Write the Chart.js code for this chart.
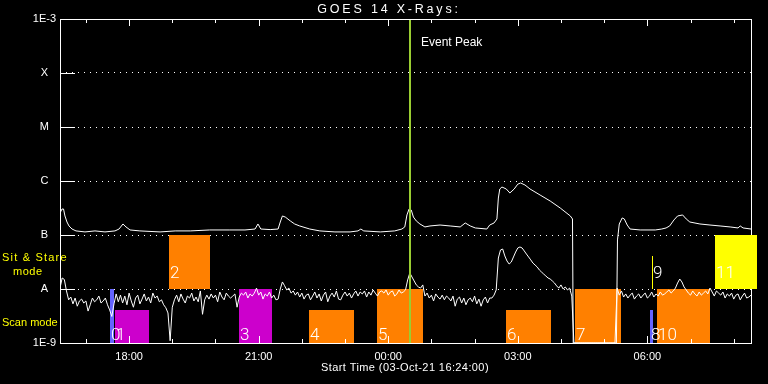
<!DOCTYPE html>
<html>
<head>
<meta charset="utf-8">
<title>GOES 14 X-Rays</title>
<script src="https://cdn.jsdelivr.net/npm/chart.js@4/dist/chart.umd.min.js"></script>
<style>
  html, body { margin: 0; padding: 0; background: #000; }
  #chart { display: block; background: #000; }
</style>
</head>
<body>
<canvas id="chart" width="768" height="384"></canvas>
<script>
"use strict";

// time is in minutes after the start time (03-Oct-21 16:24:00)
var TITLE = "GOES 14 X-Rays:";
var X_TITLE = "Start Time (03-Oct-21 16:24:00)";
var SPAN_MIN = 960;

var X_TICKS = [96, 276, 456, 636, 816];
var X_TICK_LABELS = ["18:00", "21:00", "00:00", "03:00", "06:00"];
var X_MINOR = [36, 96, 156, 216, 276, 336, 396, 456, 516, 576, 636, 696, 756, 816, 876, 936];

var Y_TICKS = [1e-9, 1e-8, 1e-7, 1e-6, 1e-5, 1e-4, 1e-3];
var Y_TICK_LABELS = ["1E-9", "A", "B", "C", "M", "X", "1E-3"];

// 1.0-8.0 A channel, flux in 1e-9 W/m2
var LONG_TIME = [0, 2.8, 4.9, 6.9, 9.7, 12.5, 16.7, 22.2, 34.7, 48.6, 62.5, 76.4, 82, 87.5, 91.7, 97.3,
  111, 139, 160, 181, 208, 236, 257, 271, 275, 279, 292, 303, 306, 309, 313, 320, 326, 333, 347, 361,
  382, 403, 414, 418, 422, 445, 465, 475, 479, 482, 485, 488, 491, 495, 500, 507, 514, 528, 542, 556,
  563, 570, 577, 593, 597, 603, 607, 609, 611, 614, 620, 625, 631, 636, 640, 646, 653, 667, 681, 695,
  709, 712, 713, 773, 774.5, 777, 781, 784, 788, 792, 806, 827, 836, 842, 847, 853, 858, 865, 870, 875,
  889, 903, 917, 931, 942, 945, 949, 960];
var LONG_FLUX = [255, 303, 303, 225, 174, 147, 129, 119, 114, 119, 114, 119, 129, 160, 141, 124,
  119, 114, 119, 119, 124, 124, 124, 129, 160, 129, 126, 129, 174, 225, 215, 182, 160, 147, 129, 119,
  114, 114, 119, 129, 119, 114, 119, 129, 141, 235, 303, 290, 215, 182, 160, 141, 147, 153, 147, 141,
  167, 147, 135, 129, 153, 167, 198, 484, 711, 774, 711, 600, 711, 875, 918, 843, 711, 550, 426, 316,
  225, 198, 1, 1, 81, 160, 207, 198, 153, 129, 124, 124, 129, 135, 147, 190, 225, 235, 198, 174,
  160, 153, 147, 141, 135, 147, 135, 129];

// 0.5-4.0 A channel, one value every 3 minutes, flux in 1e-9 W/m2
var SHORT_STEP = 3;
var SHORT_FLUX = [
  10.4, 16.0, 15.0, 9.2, 6.3, 7.1, 5.3, 6.8, 4.8, 6.0,
  6.5, 5.5, 6.0, 3.9, 5.1, 6.8, 5.8, 6.3, 7.4, 5.5,
  6.0, 6.8, 5.1, 4.1, 3.1, 5.3, 8.1, 5.8, 7.7, 5.5,
  7.4, 5.1, 8.4, 6.0, 4.6, 6.8, 7.7, 5.3, 6.5, 8.1,
  6.0, 7.1, 5.5, 8.4, 6.8, 7.4, 5.8, 6.3, 5.1, 4.5,
  3.6, 1.1, 4.6, 6.3, 7.7, 5.8, 8.1, 6.5, 5.5, 7.4,
  6.8, 8.4, 6.0, 7.1, 5.8, 9.2, 3.4, 6.3, 7.7, 6.5,
  8.1, 6.8, 7.7, 5.8, 8.8, 7.1, 6.3, 8.4, 7.4, 6.8,
  7.4, 8.1, 4.6, 7.1, 8.4, 7.7, 8.8, 6.8, 8.1, 7.4,
  8.4, 10.4, 7.7, 8.8, 6.5, 8.1, 7.4, 8.8, 6.8, 7.7,
  6.3, 6.5, 10.0, 13.5, 11.5, 9.6, 10.4, 8.4, 9.2, 7.7,
  8.8, 7.1, 8.4, 6.5, 7.7, 8.1, 6.3, 7.4, 8.8, 6.8,
  8.1, 6.0, 7.7, 8.8, 5.8, 7.4, 8.4, 7.1, 9.2, 6.5,
  6.3, 7.7, 8.8, 7.4, 8.4, 6.8, 8.1, 9.2, 7.4, 8.8,
  8.1, 9.2, 7.1, 8.8, 7.7, 9.6, 8.4, 7.4, 8.8, 9.2,
  8.4, 9.6, 7.7, 8.8, 9.2, 7.4, 8.1, 9.6, 8.4, 8.8,
  9.6, 14.7, 19.8, 16.7, 14.1, 11.9, 10.9, 10.4, 11.9, 7.4,
  8.4, 6.8, 7.7, 6.0, 8.1, 7.1, 6.5, 7.7, 6.3, 7.4,
  6.8, 6.0, 7.4, 4.8, 6.5, 7.1, 5.5, 6.8, 5.1, 6.3,
  6.8, 5.8, 7.4, 5.3, 6.5, 4.8, 6.3, 7.1, 5.5, 6.8,
  6.8, 7.7, 9.6, 37.5, 52.8, 55.0, 40.9, 33.0, 29.0, 31.6,
  39.2, 48.4, 57.5, 60.0, 57.5, 50.6, 44.4, 39.2, 34.6, 30.3,
  27.8, 25.5, 22.5, 20.6, 18.9, 17.4, 16.0, 15.3, 14.1, 12.9,
  11.4, 10.4, 11.9, 10.0, 10.9, 9.6, 10.4, 7.4, 1, 1,
  1, 1, 1, 1, 1, 1, 1, 1, 1, 1,
  1, 1, 1, 1, 1, 1, 1, 1, 10.4, 7.7,
  9.2, 7.1, 8.1, 6.8, 7.7, 8.4, 6.5, 7.4, 8.1, 6.8,
  7.7, 8.4, 6.8, 7.4, 8.8, 7.1, 8.1, 7.4, 8.8, 7.7,
  8.1, 8.8, 9.6, 8.4, 9.2, 10.4, 12.9, 15.3, 13.5, 10.9,
  9.6, 8.4, 7.7, 9.2, 8.1, 7.4, 8.8, 7.7, 8.4, 9.2,
  8.1, 10.4, 8.8, 7.4, 9.2, 8.4, 7.7, 8.8, 6.8, 8.1,
  7.4, 8.4, 6.5, 7.7, 8.1, 6.3, 7.4, 8.4, 6.8, 7.1, 7.7
];

// observation segments: start / end (minutes), flux band (W/m2)
var SEG_NAME = ["0", "1", "2", "3", "4", "5", "6", "7", "8", "9", "10", "11"];
var SEG_START = [69, 76, 151, 249, 346, 440, 620, 716, 820, 822.5, 829, 910];
var SEG_END = [75, 123, 208, 295, 408, 504, 682, 779, 823.5, 824, 903, 968];
var SEG_LOW = [1e-9, 1e-9, 1e-8, 1e-9, 1e-9, 1e-9, 1e-9, 1e-9, 1e-9, 1e-8, 1e-9, 1e-8];
var SEG_HIGH = [1e-8, 4e-9, 1e-7, 1e-8, 4e-9, 1e-8, 4e-9, 1e-8, 4e-9, 4e-8, 1e-8, 1e-7];

var EVENT_TIME = 486;
var EVENT_LABEL = "Event Peak";

// styles
var SEG_COLOR = ["#6464ff", "#cc00cc", "#ff8000", "#cc00cc", "#ff8000", "#ff8000",
  "#ff8000", "#ff8000", "#6464ff", "#ffff00", "#ff8000", "#ffff00"];
var FONT = "'Liberation Sans', Arial, sans-serif";

var longPts = LONG_TIME.map(function (t, i) { return {x: t, y: LONG_FLUX[i] * 1e-9}; });
var shortPts = SHORT_FLUX.map(function (v, i) { return {x: i * SHORT_STEP, y: v * 1e-9}; });

function hline(c, x0, x1, y) {
  c.beginPath(); c.moveTo(x0, y); c.lineTo(x1, y); c.stroke();
}
function vline(c, x, y0, y1) {
  c.beginPath(); c.moveTo(x, y0); c.lineTo(x, y1); c.stroke();
}

var goesOverlay = {
  id: "goesOverlay",
  beforeDatasetsDraw: function (chart) {
    var c = chart.ctx, a = chart.chartArea, xs = chart.scales.x, ys = chart.scales.y;
    c.save();
    c.strokeStyle = "#fff";
    c.lineWidth = 1;
    vline(c, a.right + 0.5, a.top, a.bottom + 1);
    SEG_NAME.forEach(function (n, i) {
      var x0 = Math.round(xs.getPixelForValue(SEG_START[i]));
      var x1 = Math.round(xs.getPixelForValue(SEG_END[i]));
      var y0 = Math.round(ys.getPixelForValue(SEG_LOW[i]));
      var y1 = Math.round(ys.getPixelForValue(SEG_HIGH[i]));
      c.fillStyle = SEG_COLOR[i];
      c.fillRect(x0, y1, Math.max(1, x1 - x0), y0 - y1);
    });
    c.restore();
  },
  afterDatasetsDraw: function (chart) {
    var c = chart.ctx, a = chart.chartArea, xs = chart.scales.x, ys = chart.scales.y;
    c.save();
    // event line
    var ex = Math.round(xs.getPixelForValue(EVENT_TIME));
    c.strokeStyle = "#9acd32";
    c.lineWidth = 2;
    vline(c, ex, a.top, a.bottom);

    // segment numbers
    c.fillStyle = "#fff";
    c.font = "300 17px Roboto, " + FONT;
    c.textAlign = "left";
    c.textBaseline = "alphabetic";
    SEG_NAME.forEach(function (n, i) {
      var x0 = Math.round(xs.getPixelForValue(SEG_START[i]));
      var yb = Math.round(ys.getPixelForValue(SEG_LOW[i]));
      c.fillText(n, x0 + 1, yb - (SEG_LOW[i] < 5e-9 ? 3 : 11));
    });

    // frame
    c.strokeStyle = "#fff";
    c.lineWidth = 1;
    hline(c, a.left, a.right + 1, a.top + 0.5);
    hline(c, a.left, a.right + 1, a.bottom + 0.5);
    vline(c, a.left + 0.5, a.top, a.bottom + 1);
    X_MINOR.forEach(function (m) {
      var px = Math.round(xs.getPixelForValue(m)) + 0.5;
      var len = X_TICKS.indexOf(m) >= 0 ? 7 : 4;
      vline(c, px, a.top, a.top + len);
      vline(c, px, a.bottom, a.bottom - len);
    });
    Y_TICKS.slice(1, -1).forEach(function (v) {
      var py = Math.round(ys.getPixelForValue(v)) + 0.5;
      hline(c, a.left, a.left + 15, py);
    });

    // texts
    c.fillStyle = "#fff";
    c.font = "12px " + FONT;
    c.textBaseline = "middle";
    c.fillText(EVENT_LABEL, ex + 11, 43);
    c.textAlign = "center";
    c.font = "12.5px " + FONT;
    c.letterSpacing = "2.8px";
    c.fillText(TITLE, 389, 10);
    c.font = "11px " + FONT;
    c.letterSpacing = "0.4px";
    c.fillText(X_TITLE, 405, 368);
    c.fillStyle = "#ffff00";
    c.textAlign = "left";
    c.letterSpacing = "1.2px";
    c.fillText("Sit & Stare", 2, 258);
    c.letterSpacing = "0.5px";
    c.fillText("mode", 13, 272);
    c.letterSpacing = "0px";
    c.fillText("Scan mode", 2, 323);
    c.restore();
  }
};

Chart.defaults.font.family = FONT;
Chart.defaults.font.size = 11;
Chart.defaults.color = "#fff";

new Chart(document.getElementById("chart"), {
  type: "line",
  data: {
    datasets: [
      {label: "1.0-8.0 A", data: longPts, borderColor: "#fff", borderWidth: 1, pointRadius: 0, tension: 0},
      {label: "0.5-4.0 A", data: shortPts, borderColor: "#fff", borderWidth: 1, pointRadius: 0, tension: 0}
    ]
  },
  options: {
    responsive: false,
    animation: false,
    layout: {padding: {top: 19, right: 17, bottom: 0, left: 0}},
    plugins: {legend: {display: false}, tooltip: {enabled: false}},
    scales: {
      x: {
        type: "linear",
        min: 0,
        max: SPAN_MIN,
        afterBuildTicks: function (s) { s.ticks = X_TICKS.map(function (v) { return {value: v}; }); },
        afterFit: function (s) { s.height = 41; },
        grid: {display: false},
        border: {display: false},
        ticks: {
          padding: -1,
          maxRotation: 0,
          autoSkip: false,
          callback: function (v, i) { return X_TICK_LABELS[i]; }
        }
      },
      y: {
        type: "logarithmic",
        min: 1e-9,
        max: 1e-3,
        afterBuildTicks: function (s) { s.ticks = Y_TICKS.map(function (v) { return {value: v}; }); },
        afterFit: function (s) { s.width = 60; },
        grid: {color: "#fff", lineWidth: 1, drawTicks: false},
        border: {display: false, dash: [1, 5], dashOffset: 0},
        ticks: {
          padding: 4,
          crossAlign: "center",
          autoSkip: false,
          callback: function (v, i) { return Y_TICK_LABELS[i]; }
        }
      }
    }
  },
  plugins: [goesOverlay]
});
</script>
</body>
</html>
